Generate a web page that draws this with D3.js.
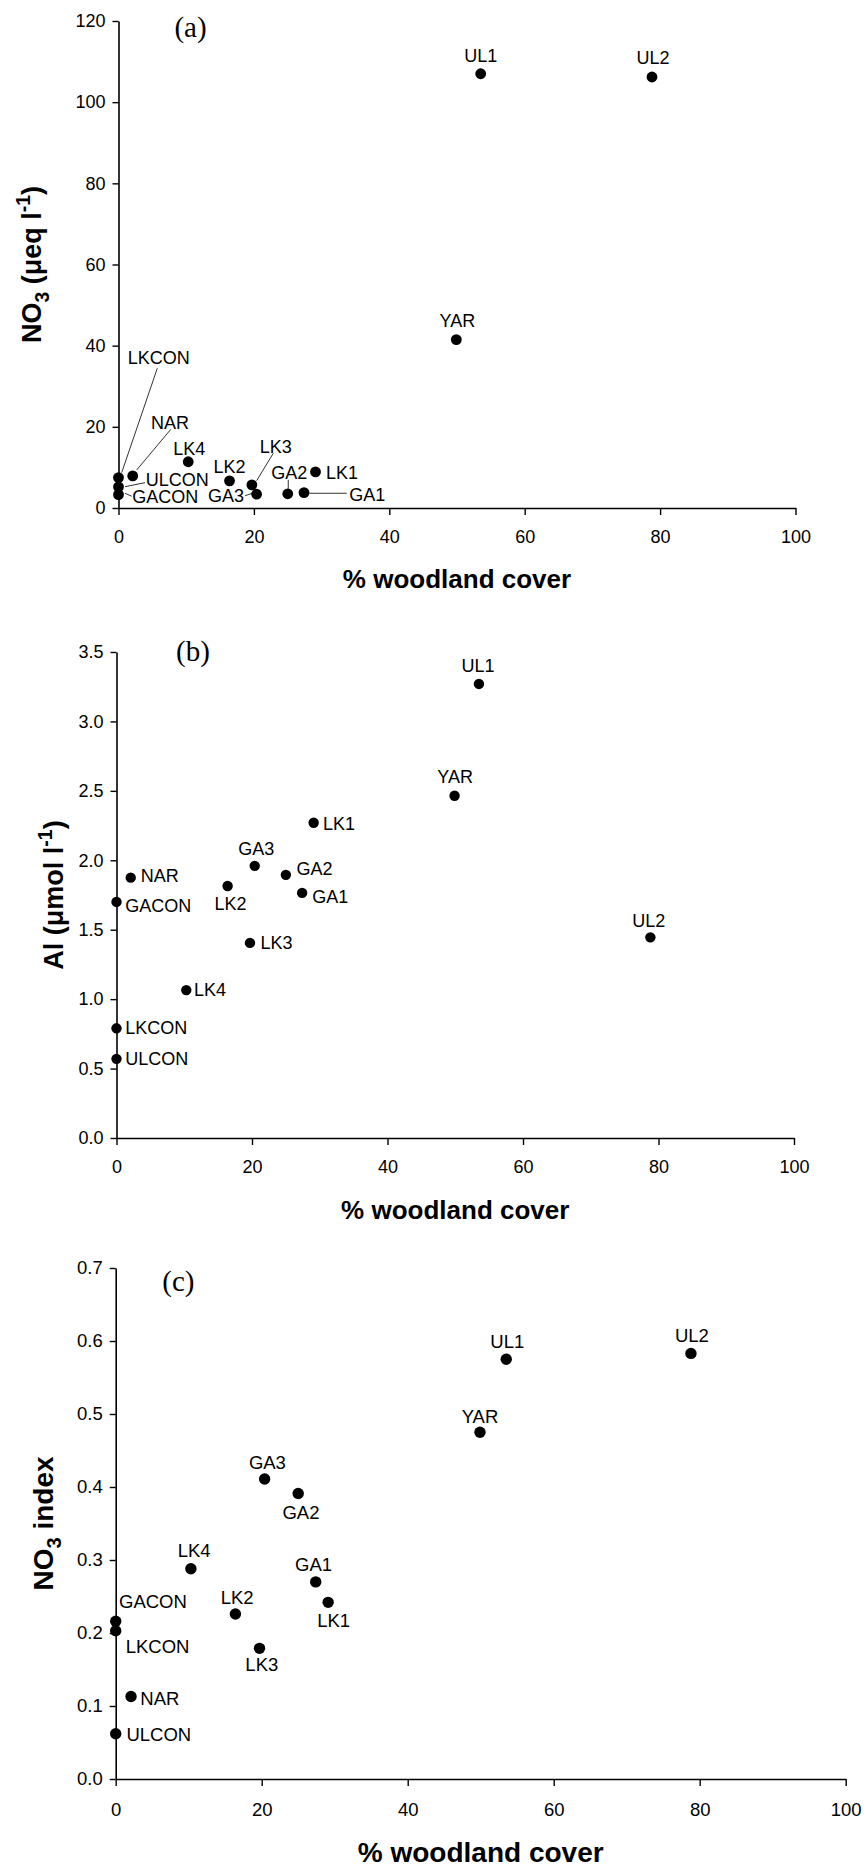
<!DOCTYPE html>
<html>
<head>
<meta charset="utf-8">
<script src="https://cdn.jsdelivr.net/npm/d3@7"></script>
<style>
  html, body { margin: 0; padding: 0; background: #ffffff; }
  svg { display: block; }
  text { font-family: "Liberation Sans", Arial, sans-serif; fill: #000; }
</style>
</head>
<body>
<svg id="chart" width="865" height="1870"></svg>
<script>
// ---------------- data ----------------
const sites    = ["UL1","UL2","YAR","LK1","LK2","LK3","LK4","GA1","GA2","GA3","NAR","GACON","LKCON","ULCON"];
const woodland = [53.5, 78.8, 49.9, 29.1, 16.4, 19.7, 10.3, 27.4, 25.0, 20.4, 2.1, 0, 0, 0];
const no3      = [107, 106.2, 41.5, 8.9, 6.7, 5.7, 11.4, 3.8, 3.5, 3.4, 7.9, 3.3, 7.5, 5.2];
const al       = [3.27, 1.445, 2.465, 2.27, 1.815, 1.405, 1.065, 1.765, 1.895, 1.96, 1.875, 1.70, 0.79, 0.57];
const no3index = [0.575, 0.583, 0.475, 0.242, 0.226, 0.179, 0.288, 0.270, 0.391, 0.411, 0.113, 0.216, 0.203, 0.062];

const xTicks     = [0, 20, 40, 60, 80, 100];
const no3Ticks   = [0, 20, 40, 60, 80, 100, 120];
const alTicks    = [0, 0.5, 1.0, 1.5, 2.0, 2.5, 3.0, 3.5];
const indexTicks = [0, 0.1, 0.2, 0.3, 0.4, 0.5, 0.6, 0.7];

const xTitle = "% woodland cover";

// ---------------- label layout (pixel offsets from each point) ----------------
const labelsA = {
  UL1:{dx:0,dy:-18,a:"middle"}, UL2:{dx:1,dy:-19,a:"middle"}, YAR:{dx:1,dy:-19,a:"middle"},
  LK4:{dx:1,dy:-12.5,a:"middle"}, LK2:{dx:0,dy:-14,a:"middle"}, LK1:{dx:10.5,dy:1.5,a:"start"},
  LK3:{dx:24,dy:-38,a:"middle",L:[21.4,-31.6,4.8,-4.2]},
  GA3:{dx:-12.6,dy:1.5,a:"end",L:[-11.5,1.5,-4,-1]},
  GA2:{dx:1.5,dy:-20.5,a:"middle",L:[0.5,-14,0.5,-5]},
  GA1:{dx:45.3,dy:2.4,a:"start",L:[5.3,0.7,42.7,0.7]},
  NAR:{dx:37.3,dy:-53,a:"middle",L:[38,-46.5,4,-6]},
  LKCON:{dx:40.2,dy:-119.3,a:"middle",L:[38.8,-109.3,3.2,-4.9]},
  ULCON:{dx:27.2,dy:-7.2,a:"start",L:[6.5,-0.2,26.5,-4.2]},
  GACON:{dx:13.8,dy:2.2,a:"start",L:[6.5,-1.3,13.2,1.6]}
};
const labelsB = {
  UL1:{dx:-1,dy:-17.8,a:"middle"}, YAR:{dx:0.5,dy:-18.5,a:"middle"}, LK1:{dx:9.4,dy:1,a:"start"},
  GA3:{dx:1.5,dy:-17,a:"middle"}, GA2:{dx:10.5,dy:-5.7,a:"start"}, NAR:{dx:10,dy:-1.8,a:"start"},
  LK2:{dx:2.8,dy:17.8,a:"middle"}, GA1:{dx:10,dy:4.3,a:"start"}, GACON:{dx:8.8,dy:4.3,a:"start"},
  UL2:{dx:-1.7,dy:-16,a:"middle"}, LK3:{dx:10.5,dy:0,a:"start"}, LK4:{dx:7.7,dy:0,a:"start"},
  LKCON:{dx:8.8,dy:0,a:"start"}, ULCON:{dx:8.8,dy:0,a:"start"}
};
const labelsC = {
  UL1:{dx:1,dy:-17.7,a:"middle"}, UL2:{dx:1,dy:-17.7,a:"middle"}, YAR:{dx:0,dy:-16,a:"middle"},
  GA3:{dx:2.8,dy:-16.4,a:"middle"}, GA2:{dx:2.8,dy:19,a:"middle"}, LK4:{dx:3.3,dy:-18.6,a:"middle"},
  GA1:{dx:-2.2,dy:-17.7,a:"middle"}, LK1:{dx:5.5,dy:18.6,a:"middle"}, LK2:{dx:1.7,dy:-16.4,a:"middle"},
  GACON:{dx:3.3,dy:-20,a:"start"}, LKCON:{dx:10,dy:16,a:"start"}, LK3:{dx:2.3,dy:16,a:"middle"},
  NAR:{dx:9.3,dy:2.3,a:"start"}, ULCON:{dx:10.7,dy:1,a:"start"}
};

const panels = [
  { tag:"(a)", tagX:190.5, tagY:36.5, values:no3, ticks:no3Ticks, fmt:d3.format("d"),
    xL:118.5, xR:795.5, yB:508, yT:21, r:5.4, labels:labelsA, fs:18, tickPadX:15,
    titleSize:26, xTitleY:588, yTitleX:41, yTitleSize:27, yTitle:"no3" },
  { tag:"(b)", tagX:193, tagY:660.5, values:al, ticks:alTicks, fmt:d3.format(".1f"),
    xL:116.5, xR:794, yB:1138, yT:652, r:5.2, labels:labelsB, fs:18, tickPadX:15,
    titleSize:26, xTitleY:1219, yTitleX:63, yTitleSize:27, yTitle:"al" },
  { tag:"(c)", tagX:178.4, tagY:1291, values:no3index, ticks:indexTicks, fmt:d3.format(".1f"),
    xL:115.7, xR:845.7, yB:1779, yT:1268, r:5.7, labels:labelsC, fs:18.5, tickPadX:17,
    titleSize:28, xTitleY:1862, yTitleX:53, yTitleSize:28, yTitle:"index" }
];

const svg = d3.select("#chart");
svg.append("rect").attr("width",865).attr("height",1870).attr("fill","#fff");

panels.forEach(p => {
  const g = svg.append("g");
  const x = d3.scaleLinear().domain([0, 100]).range([p.xL, p.xR]);
  const yMax = p.ticks[p.ticks.length - 1];
  const y = d3.scaleLinear().domain([0, yMax]).range([p.yB, p.yT]);

  // axes
  const xa = g.append("g").attr("transform", `translate(0,${p.yB})`)
    .call(d3.axisBottom(x).tickValues(xTicks).tickSize(7).tickSizeOuter(0).tickPadding(p.tickPadX).tickFormat(d3.format("d")));
  const ya = g.append("g").attr("transform", `translate(${p.xL},0)`)
    .call(d3.axisLeft(y).tickValues(p.ticks).tickSize(6).tickSizeOuter(0).tickPadding(7).tickFormat(p.fmt));
  [xa, ya].forEach(a => {
    a.select(".domain").attr("stroke", "#000").attr("stroke-width", 1.6);
    a.selectAll(".tick line").attr("stroke", "#000").attr("stroke-width", 1.4);
    a.selectAll(".tick text").attr("font-size", p.fs).attr("fill", "#111")
      .attr("font-family", "'Liberation Sans', Arial, sans-serif");
  });

  // panel tag
  g.append("text").attr("x", p.tagX).attr("y", p.tagY).attr("text-anchor", "middle")
    .attr("font-size", 29)
    .style("font-family", "'Liberation Serif', 'Times New Roman', serif")
    .text(p.tag);

  // x title
  g.append("text").attr("x", (p.xL + p.xR) / 2).attr("y", p.xTitleY)
    .attr("text-anchor", "middle").attr("font-weight", "bold").attr("font-size", p.titleSize)
    .text(xTitle);

  // y title
  const yt = g.append("text")
    .attr("transform", `translate(${p.yTitleX},${(p.yB + p.yT) / 2}) rotate(-90)`)
    .attr("text-anchor", "middle").attr("font-weight", "bold").attr("font-size", p.yTitleSize);
  const s = p.yTitleSize;
  if (p.yTitle === "no3") {
    yt.append("tspan").text("NO");
    yt.append("tspan").attr("font-size", s * 0.72).attr("dy", s * 0.28).text("3");
    yt.append("tspan").attr("dy", -s * 0.28).text(" (\u03bceq l");
    yt.append("tspan").attr("font-size", s * 0.72).attr("dy", -s * 0.42).text("-1");
    yt.append("tspan").attr("dy", s * 0.42).text(")");
  } else if (p.yTitle === "al") {
    yt.append("tspan").text("Al (\u03bcmol l");
    yt.append("tspan").attr("font-size", s * 0.72).attr("dy", -s * 0.42).text("-1");
    yt.append("tspan").attr("dy", s * 0.42).text(")");
  } else {
    yt.append("tspan").text("NO");
    yt.append("tspan").attr("font-size", s * 0.72).attr("dy", s * 0.28).text("3");
    yt.append("tspan").attr("dy", -s * 0.28).text(" index");
  }

  const pts = sites.map((name, i) => ({ name, px: x(woodland[i]), py: y(p.values[i]) }));

  // leader lines
  g.append("g").selectAll("line").data(pts.filter(d => p.labels[d.name] && p.labels[d.name].L))
    .join("line")
    .attr("x1", d => d.px + p.labels[d.name].L[0]).attr("y1", d => d.py + p.labels[d.name].L[1])
    .attr("x2", d => d.px + p.labels[d.name].L[2]).attr("y2", d => d.py + p.labels[d.name].L[3])
    .attr("stroke", "#333").attr("stroke-width", 1);

  // points
  g.append("g").selectAll("circle").data(pts).join("circle")
    .attr("cx", d => d.px).attr("cy", d => d.py).attr("r", p.r).attr("fill", "#000");

  // labels
  g.append("g").selectAll("text").data(pts).join("text")
    .attr("x", d => d.px + p.labels[d.name].dx)
    .attr("y", d => d.py + p.labels[d.name].dy)
    .attr("text-anchor", d => p.labels[d.name].a)
    .attr("dominant-baseline", "central")
    .attr("font-size", p.fs)
    .attr("fill", "#111")
    .text(d => d.name);
});
</script>
</body>
</html>
